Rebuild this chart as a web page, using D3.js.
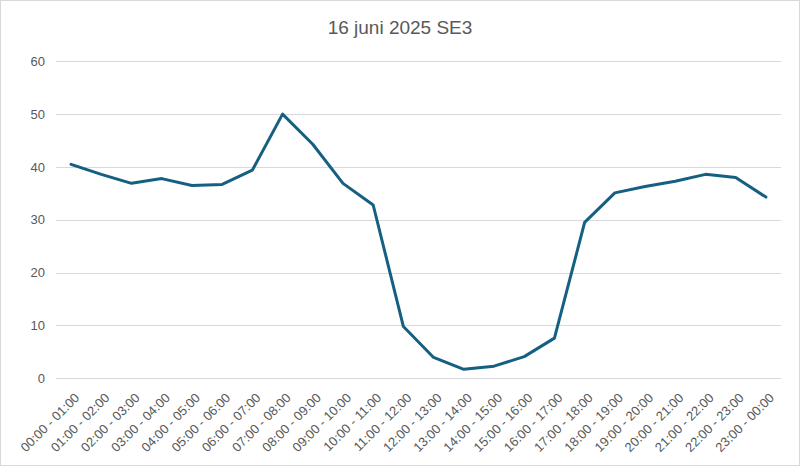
<!DOCTYPE html>
<html>
<head>
<meta charset="utf-8">
<script src="https://cdn.jsdelivr.net/npm/d3@7"></script>
<style>
  html, body { margin: 0; padding: 0; background: #fff; }
  svg { display: block; }
</style>
</head>
<body>
<svg id="chart" width="800" height="466"></svg>
<script>
const title = "16 juni 2025 SE3";
const categories = [
  "00:00 - 01:00","01:00 - 02:00","02:00 - 03:00","03:00 - 04:00","04:00 - 05:00","05:00 - 06:00",
  "06:00 - 07:00","07:00 - 08:00","08:00 - 09:00","09:00 - 10:00","10:00 - 11:00","11:00 - 12:00",
  "12:00 - 13:00","13:00 - 14:00","14:00 - 15:00","15:00 - 16:00","16:00 - 17:00","17:00 - 18:00",
  "18:00 - 19:00","19:00 - 20:00","20:00 - 21:00","21:00 - 22:00","22:00 - 23:00","23:00 - 00:00"
];
const values = [
  40.5, 38.6, 36.9, 37.8, 36.5, 36.7,
  39.4, 50.0, 44.3, 36.9, 32.8, 9.8,
  3.95, 1.7, 2.3, 4.1, 7.6, 29.5,
  35.1, 36.3, 37.3, 38.6, 38.0, 34.3
];
const yTicks = [0, 10, 20, 30, 40, 50, 60];

const W = 800, H = 466;
const svg = d3.select("#chart");

// outer border
svg.append("rect").attr("x", 0.5).attr("y", 0.5).attr("width", W - 1).attr("height", H - 1)
  .attr("fill", "#fff").attr("stroke", "#d9d9d9").attr("stroke-width", 1);

const x = d3.scalePoint().domain(categories).range([56, 781]).padding(0.5);
const y = d3.scaleLinear().domain([0, 60]).range([378.3, 61.3]);

// gridlines
svg.append("g").selectAll("line").data(yTicks).join("line")
  .attr("x1", 56).attr("x2", 781)
  .attr("y1", d => Math.round(y(d)) + 0.5).attr("y2", d => Math.round(y(d)) + 0.5)
  .attr("stroke", "#d9d9d9").attr("stroke-width", 1);

// y axis labels
const yAxis = d3.axisLeft(y).tickValues(yTicks).tickSize(0).tickPadding(0);
const gy = svg.append("g").attr("transform", "translate(45,0)").call(yAxis);
gy.select(".domain").remove();
gy.selectAll("text")
  .attr("font-family", "'Liberation Sans', Arial, sans-serif")
  .attr("font-size", 13).attr("fill", "#595959");

// x axis labels
const xAxis = d3.axisBottom(x).tickSize(0).tickPadding(0);
const gx = svg.append("g").attr("transform", "translate(0,384)").call(xAxis);
gx.select(".domain").remove();
gx.selectAll("text")
  .attr("font-family", "'Liberation Sans', Arial, sans-serif")
  .attr("font-size", 13).attr("fill", "#595959")
  .attr("text-anchor", "end")
  .attr("dy", "0.71em")
  .attr("transform", "translate(2,8) rotate(-45)");

// line
const line = d3.line().x((d, i) => x(categories[i])).y(d => y(d));
svg.append("path").datum(values)
  .attr("d", line)
  .attr("fill", "none")
  .attr("stroke", "#156082")
  .attr("stroke-width", 3)
  .attr("stroke-linejoin", "round")
  .attr("stroke-linecap", "round");

// title
svg.append("text").attr("x", 400).attr("y", 34)
  .attr("text-anchor", "middle")
  .attr("font-family", "'Liberation Sans', Arial, sans-serif")
  .attr("font-size", 19).attr("fill", "#595959")
  .text(title);
</script>
</body>
</html>
